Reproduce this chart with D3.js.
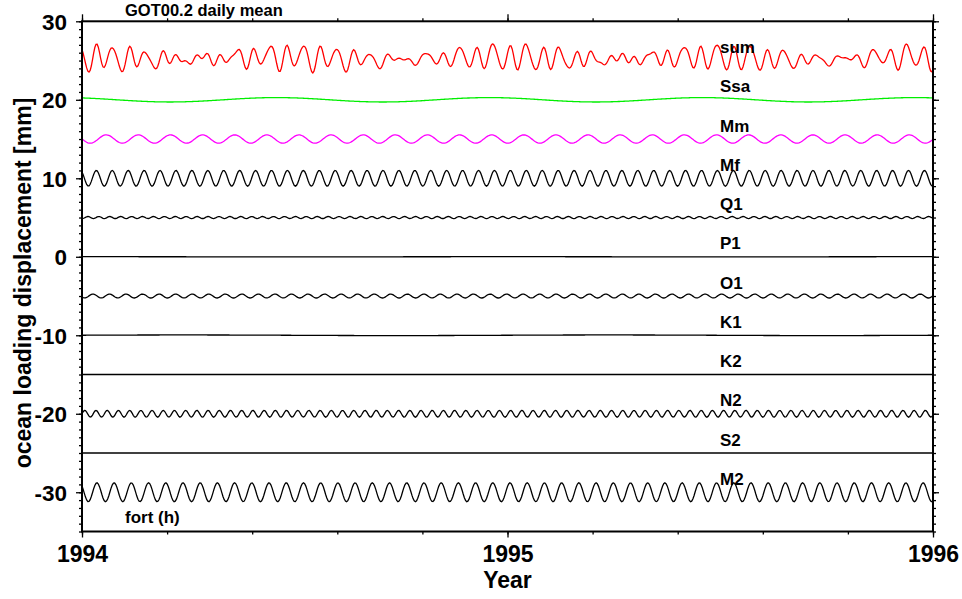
<!DOCTYPE html>
<html>
<head>
<meta charset="utf-8">
<script src="https://cdn.jsdelivr.net/npm/d3@7/dist/d3.min.js"></script>
<style>
html,body{margin:0;padding:0;background:#fff;}
svg{display:block;}
text{font-family:"Liberation Sans",Arial,Helvetica,sans-serif;font-weight:bold;fill:#000;}
</style>
</head>
<body>
<svg id="chart" width="962" height="599"></svg>
<script>
// ---- data ----
// harmonic constituents of the daily-mean ocean loading displacement (mm)
const names      = ["Ssa", "Mm", "Mf", "Q1", "P1", "O1", "K1", "K2", "N2", "S2", "M2"];
const offsets    = [20, 15, 10, 5, 0, -5, -10, -15, -20, -25, -30];
const amplitudes = [0.28, 0.53, 1.0, 0.13, 0.01, 0.25, 0.04, 0.0, 0.43, 0.0, 1.2];
const periods    = [182.62, 27.555, 13.661, 9.366, 365.26, 14.192, 365.24, 182.62, 9.614, 1e9, 14.765]; // aliased periods, days
const peakDays   = [166.8, 20.8, 12.3, 5.1, 0, 9.4, 87, 0, 2.4, 0, 12.8];   // day of first maximum after 1994-01-01
const colors     = ["#00ee00", "#ff00ff", "#000", "#000", "#000", "#000", "#000", "#000", "#000", "#000", "#000"];
const sumName = "sum", sumOffset = 25.3, sumScale = 0.68, sumColor = "#ff0000";
const xTicks = [1994, 1995, 1996];
const yTicks = [30, 20, 10, 0, -10, -20, -30];
const nDays = 730;

// ---- layout ----
const svg = d3.select("#chart");
const L = 82, R = 933, T = 21.3, B = 531.5;
const x = d3.scaleLinear().domain([1994, 1996]).range([L, R]);
const y = d3.scaleLinear().domain([-35, 30]).range([B, T]);

const days = d3.range(0, nDays + 1);
const dev = (i, t) => amplitudes[i] * Math.cos(2 * Math.PI * (t - peakDays[i]) / periods[i]);
const series = names.map((n, i) => ({
  name: n, color: colors[i], offset: offsets[i],
  values: days.map(t => ({t, v: offsets[i] + dev(i, t)}))
}));
const sumSeries = {
  name: sumName, color: sumColor, offset: 25,
  values: days.map(t => ({t, v: sumOffset + sumScale * d3.sum(names, (n, i) => dev(i, t))}))
};
const all = [sumSeries, ...series];

const line = d3.line().x(d => x(1994 + d.t / 365)).y(d => y(d.v));

const g = svg.append("g");
g.selectAll("path.series").data(all).join("path")
  .attr("class", "series")
  .attr("d", d => line(d.values))
  .attr("fill", "none")
  .attr("stroke", d => d.color)
  .attr("stroke-width", 1.3);

g.selectAll("text.lab").data(all).join("text")
  .attr("class", "lab")
  .attr("x", 720)
  .attr("y", d => y(d.offset) - 7.5)
  .attr("font-size", 17)
  .text(d => d.name);

// ---- axes ----
const axStyle = sel => {
  sel.select(".domain").remove();
  sel.selectAll("line").attr("stroke", "#000").attr("stroke-width", 1.3);
};
const minorX = d3.range(0, 11).map(k => 1994 + k * 0.2);
const minorY = d3.range(-35, 31);
const fmt = d => String(d);

svg.append("g").attr("transform", `translate(0,${B})`)
  .call(d3.axisBottom(x).tickValues(minorX).tickSize(3).tickFormat("")).call(axStyle);
svg.append("g").attr("transform", `translate(0,${B})`)
  .call(d3.axisBottom(x).tickValues(xTicks).tickSize(6).tickFormat(fmt))
  .call(axStyle)
  .call(s => s.selectAll("text").attr("font-size", 23).attr("y", 30).attr("dy", 0));
svg.append("g").attr("transform", `translate(0,${T})`)
  .call(d3.axisTop(x).tickValues(minorX).tickSize(3).tickFormat("")).call(axStyle);
svg.append("g").attr("transform", `translate(0,${T})`)
  .call(d3.axisTop(x).tickValues(xTicks).tickSize(7).tickFormat("")).call(axStyle);

svg.append("g").attr("transform", `translate(${L},0)`)
  .call(d3.axisLeft(y).tickValues(minorY).tickSize(3).tickFormat("")).call(axStyle);
svg.append("g").attr("transform", `translate(${L},0)`)
  .call(d3.axisLeft(y).tickValues(yTicks).tickSize(6).tickFormat(fmt))
  .call(axStyle)
  .call(s => s.selectAll("text").attr("font-size", 22.5).attr("x", -15).attr("dy", "0.36em"));
svg.append("g").attr("transform", `translate(${R},0)`)
  .call(d3.axisRight(y).tickValues(minorY).tickSize(3).tickFormat("")).call(axStyle);
svg.append("g").attr("transform", `translate(${R},0)`)
  .call(d3.axisRight(y).tickValues(yTicks).tickSize(6).tickFormat("")).call(axStyle);

// frame
svg.append("rect").attr("x", L).attr("y", T).attr("width", R - L).attr("height", B - T)
  .attr("fill", "none").attr("stroke", "#000").attr("stroke-width", 2);

// titles
svg.append("text").attr("x", 125).attr("y", 16).attr("font-size", 16.5).text("GOT00.2 daily mean");
svg.append("text").attr("x", 125).attr("y", 522.7).attr("font-size", 17).text("fort (h)");
svg.append("text").attr("x", (L + R) / 2).attr("y", 588).attr("text-anchor", "middle")
  .attr("font-size", 23).text("Year");
svg.append("text").attr("transform", "translate(31,283) rotate(-90)")
  .attr("text-anchor", "middle").attr("font-size", 23)
  .text("ocean loading displacement [mm]");
</script>
</body>
</html>
